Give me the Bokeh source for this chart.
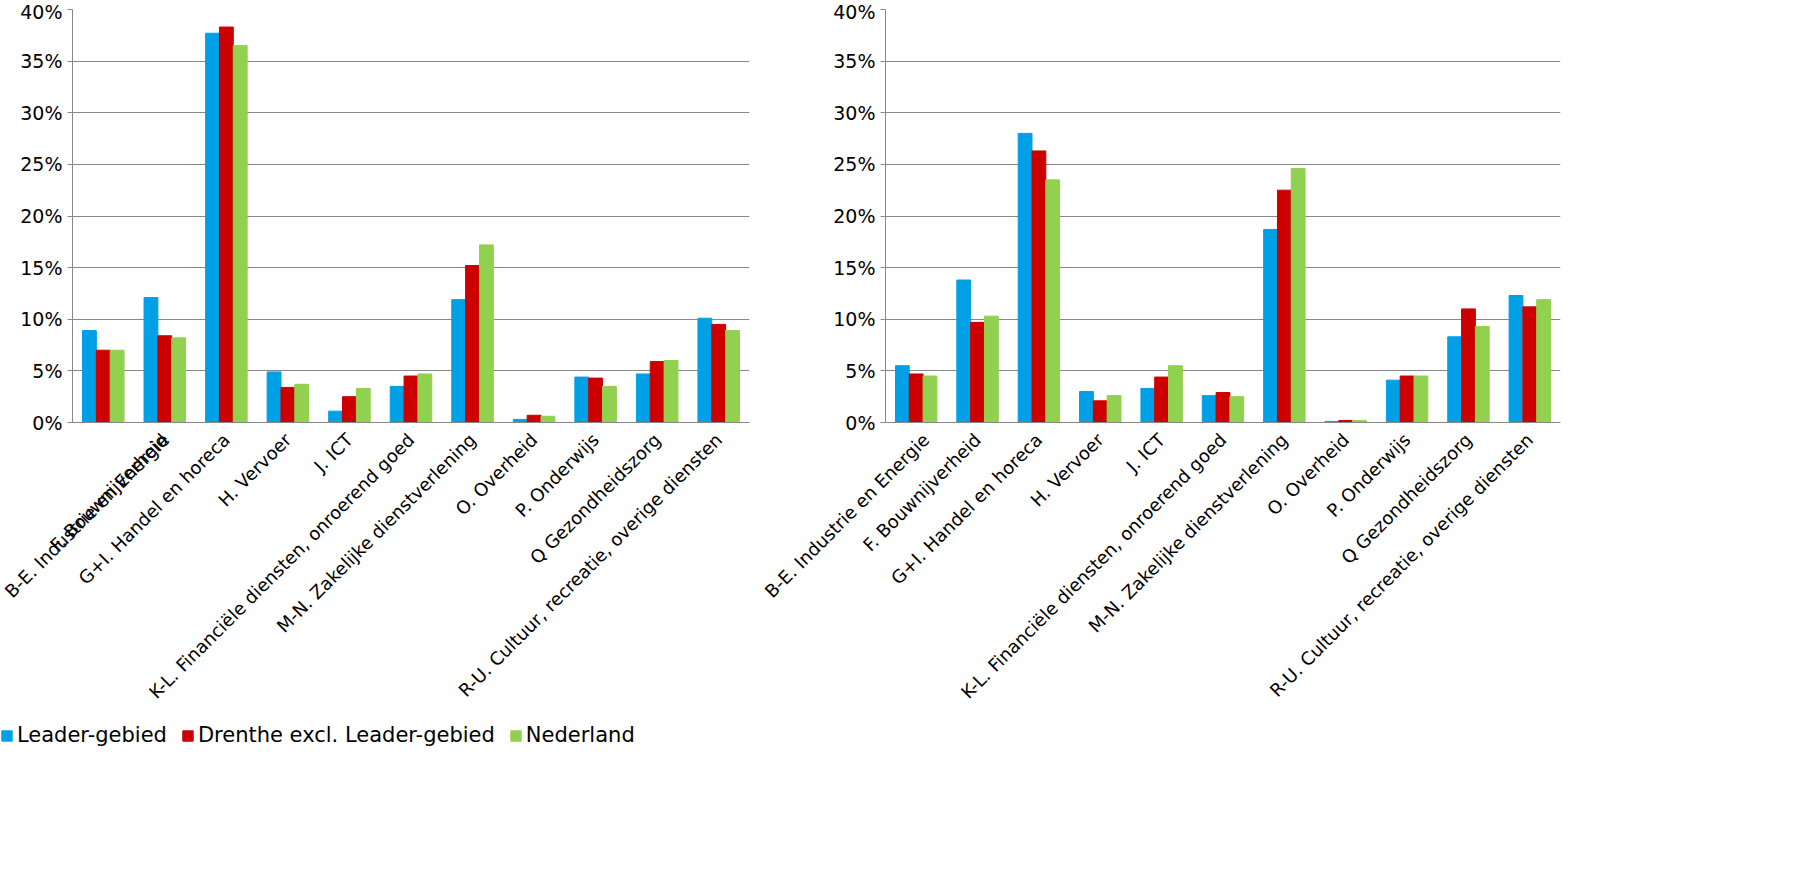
from math import pi
from bokeh.plotting import figure
from bokeh.layouts import row, column
from bokeh.models import ColumnDataSource, NumeralTickFormatter, FixedTicker, Legend, LegendItem
from bokeh.transform import dodge
from bokeh.embed import file_html
from bokeh.resources import INLINE

sectors = ["B-E. Industrie en Energie", "F. Bouwnijverheid", "G+I. Handel en horeca",
           "H. Vervoer", "J. ICT", "K-L. Financiële diensten, onroerend goed",
           "M-N. Zakelijke dienstverlening", "O. Overheid", "P. Onderwijs",
           "Q Gezondheidszorg", "R-U. Cultuur, recreatie, overige diensten"]

left_leader = [8.9, 12.1, 37.7, 4.9, 1.1, 3.5, 11.9, 0.3, 4.4, 4.7, 10.1]
left_drenthe = [7.0, 8.4, 38.3, 3.4, 2.5, 4.5, 15.2, 0.7, 4.3, 5.9, 9.5]
left_nl = [7.0, 8.2, 36.5, 3.7, 3.3, 4.7, 17.2, 0.6, 3.5, 6.0, 8.9]

right_leader = [5.5, 13.8, 28.0, 3.0, 3.3, 2.6, 18.7, 0.1, 4.1, 8.3, 12.3]
right_drenthe = [4.7, 9.7, 26.3, 2.1, 4.4, 2.9, 22.5, 0.2, 4.5, 11.0, 11.2]
right_nl = [4.5, 10.3, 23.5, 2.6, 5.5, 2.5, 24.6, 0.2, 4.5, 9.3, 11.9]

series = ["Leader-gebied", "Drenthe excl. Leader-gebied", "Nederland"]
colors = ["#00A0E6", "#CC0000", "#92D050"]
FONT = "DejaVu Sans"


def make_chart(leader, drenthe, nl, frame_width, border_left):
    src = ColumnDataSource(dict(x=sectors,
                                a=[v / 100 for v in leader],
                                b=[v / 100 for v in drenthe],
                                c=[v / 100 for v in nl]))
    p = figure(x_range=sectors, y_range=(0, 0.40), frame_width=frame_width,
               frame_height=413, output_backend="svg", toolbar_location=None,
               min_border_left=border_left, min_border_right=11,
               min_border_top=9, min_border_bottom=0)
    p.outline_line_color = None
    for col, off, color in zip(["a", "b", "c"], [-0.225, 0, 0.225], colors):
        p.vbar(x=dodge("x", off, range=p.x_range), top=col, width=0.225,
               source=src, color=color)
    p.x_range.range_padding = 0
    p.yaxis.ticker = FixedTicker(ticks=[i * 0.05 for i in range(9)])
    p.yaxis.formatter = NumeralTickFormatter(format="0%")
    p.yaxis.major_label_text_font = FONT
    p.yaxis.major_label_text_font_size = "19px"
    p.yaxis.major_label_text_color = "#000000"
    p.xaxis.major_label_orientation = pi / 4
    p.xaxis.major_label_text_font = FONT
    p.xaxis.major_label_text_font_size = "18px"
    p.xaxis.major_label_text_color = "#000000"
    p.xaxis.major_label_standoff = 8
    p.yaxis.minor_tick_line_color = None
    p.yaxis.major_tick_in = 0
    p.yaxis.major_tick_out = 5
    for ax in (p.xaxis, p.yaxis):
        ax.axis_line_color = "#888888"
        ax.major_tick_line_color = "#888888"
    p.xaxis.major_tick_line_color = None
    p.xgrid.grid_line_color = None
    p.ygrid.grid_line_color = "#888888"
    p.ygrid.grid_line_width = 1
    return p


p1 = make_chart(left_leader, left_drenthe, left_nl, 677, 72)
p2 = make_chart(right_leader, right_drenthe, right_nl, 675, 125)

# legend strip under the charts
leg = figure(width=760, height=40, output_backend="svg", toolbar_location=None,
             min_border=0, x_range=(0, 1), y_range=(0, 1))
leg.axis.visible = False
leg.grid.visible = False
leg.outline_line_color = None
items = []
for s, c in zip(series, colors):
    r = leg.vbar(x=[-5], top=[-5], width=1, color=c)
    items.append(LegendItem(label=s, renderers=[r]))
legend = Legend(items=items, orientation="horizontal", location="top_left",
                label_text_font=FONT, label_text_font_size="21px",
                label_text_color="#000000",
                background_fill_alpha=0, border_line_color=None,
                glyph_width=13, glyph_height=13, spacing=14, label_standoff=4,
                margin=0, padding=0)
leg.add_layout(legend, "center")

p = column(row(p1, p2), leg, spacing=10)
open("out.html", "w").write(file_html(p, INLINE))
